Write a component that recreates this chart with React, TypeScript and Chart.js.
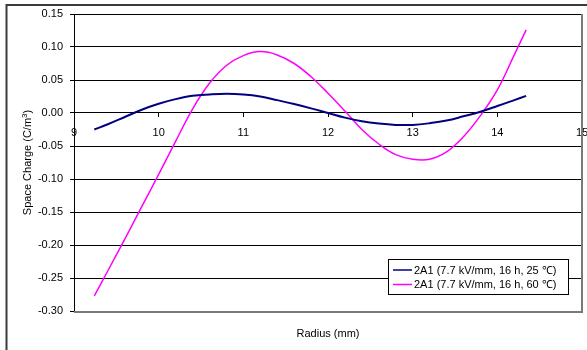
import React, { useEffect, useRef } from 'react';
import { Chart, registerables } from 'chart.js';

Chart.register(...registerables);

// ---- data ----
const radius = [9.24, 9.4, 9.6, 9.8, 10.0, 10.2, 10.4, 10.6, 10.8, 11.0, 11.2, 11.4, 11.6, 11.8, 12.0, 12.2, 12.4, 12.6, 12.8, 13.0, 13.2, 13.4, 13.6, 13.8, 14.0, 14.2, 14.34];
const charge25 = [-0.025, -0.017, -0.006, 0.005, 0.014, 0.021, 0.026, 0.028, 0.029, 0.028, 0.025, 0.0195, 0.0135, 0.007, 0.0, -0.007, -0.0125, -0.016, -0.018, -0.018, -0.0155, -0.0115, -0.005, 0.002, 0.0105, 0.0195, 0.026];
const charge60 = [-0.277, -0.239, -0.191, -0.142, -0.093, -0.043, 0.006, 0.045, 0.072, 0.087, 0.093, 0.088, 0.075, 0.055, 0.03, 0.003, -0.025, -0.047, -0.063, -0.07, -0.07, -0.059, -0.036, -0.004, 0.035, 0.088, 0.126];
const seriesLabels = ['2A1 (7.7 kV/mm, 16 h, 25 \u2103)', '2A1 (7.7 kV/mm, 16 h, 60 \u2103)'];
const seriesColors = ['#000080', '#FF00FF'];
const xTicks = [9, 10, 11, 12, 13, 14, 15];
const yTicks = [-0.3, -0.25, -0.2, -0.15, -0.1, -0.05, 0, 0.05, 0.1, 0.15];
const xTitle = 'Radius (mm)';
const yTitleMain = 'Space Charge (C/m';
const yTitleSup = '3';
const yTitleEnd = ')';

const FONT = '"Liberation Sans", Arial, sans-serif';

const customPlugin = {
  id: 'excelLook',
  beforeDraw(chart: any) {
    const ctx = chart.ctx;
    ctx.save();
    ctx.fillStyle = '#ffffff';
    ctx.fillRect(0, 0, chart.width, chart.height);
    ctx.strokeStyle = '#3a3a3a';
    ctx.lineWidth = 2;
    ctx.strokeRect(6.5, 5, chart.width + 30, chart.height + 30);
    ctx.restore();
  },
  afterDraw(chart: any) {
    const ctx = chart.ctx;
    const a = chart.chartArea;
    ctx.save();
    // plot area border (right / bottom)
    ctx.strokeStyle = '#7a7a7a';
    ctx.lineWidth = 2;
    ctx.beginPath();
    ctx.moveTo(a.right, a.top);
    ctx.lineTo(a.right, a.bottom + 1);
    ctx.lineTo(a.left, a.bottom + 1);
    ctx.stroke();

    // x title
    ctx.fillStyle = '#000';
    ctx.font = `11px ${FONT}`;
    ctx.textAlign = 'center';
    ctx.textBaseline = 'alphabetic';
    ctx.fillText(xTitle, (a.left + a.right) / 2, 337);

    // y title (rotated, with superscript)
    ctx.save();
    ctx.translate(31, (a.top + a.bottom) / 2);
    ctx.rotate(-Math.PI / 2);
    ctx.font = `11px ${FONT}`;
    const w1 = ctx.measureText(yTitleMain).width;
    const w3 = ctx.measureText(yTitleEnd).width;
    ctx.font = `8px ${FONT}`;
    const w2 = ctx.measureText(yTitleSup).width;
    const total = w1 + w2 + w3;
    let x = -total / 2;
    ctx.textAlign = 'left';
    ctx.font = `11px ${FONT}`;
    ctx.fillText(yTitleMain, x, 0);
    x += w1;
    ctx.font = `8px ${FONT}`;
    ctx.fillText(yTitleSup, x, -4);
    x += w2;
    ctx.font = `11px ${FONT}`;
    ctx.fillText(yTitleEnd, x, 0);
    ctx.restore();

    // legend
    const lx = 388.5, ly = 259.5, lw = 180, lh = 35;
    ctx.fillStyle = '#fff';
    ctx.fillRect(lx, ly, lw, lh);
    ctx.strokeStyle = '#000';
    ctx.lineWidth = 1;
    ctx.strokeRect(lx, ly, lw, lh);
    ctx.font = `11px ${FONT}`;
    ctx.textAlign = 'left';
    ctx.textBaseline = 'middle';
    chart.data.datasets.forEach((ds: any, i: number) => {
      const cy = 270 + i * 14.5;
      ctx.strokeStyle = ds.borderColor;
      ctx.lineWidth = 1.5;
      ctx.beginPath();
      ctx.moveTo(393, cy);
      ctx.lineTo(412, cy);
      ctx.stroke();
      ctx.fillStyle = '#000';
      ctx.fillText(ds.label, 414, cy + 0.5);
    });
    ctx.restore();
  },
};

export default function App() {
  const ref = useRef<HTMLCanvasElement | null>(null);

  useEffect(() => {
    if (!ref.current) return;
    const chart = new Chart(ref.current, {
      type: 'line',
      data: {
        datasets: [
          {
            label: seriesLabels[0],
            data: radius.map((r, i) => ({ x: r, y: charge25[i] })),
            borderColor: seriesColors[0],
            borderWidth: 2,
            pointRadius: 0,
            tension: 0.4,
            fill: false,
          },
          {
            label: seriesLabels[1],
            data: radius.map((r, i) => ({ x: r, y: charge60[i] })),
            borderColor: seriesColors[1],
            borderWidth: 1.5,
            pointRadius: 0,
            tension: 0.4,
            fill: false,
          },
        ],
      },
      options: {
        animation: false,
        responsive: false,
        devicePixelRatio: 1,
        layout: { padding: { left: 0, top: 14, right: 5, bottom: 39 } },
        plugins: { legend: { display: false }, tooltip: { enabled: false } },
        scales: {
          x: {
            type: 'linear',
            position: { y: 0 } as any,
            min: 9,
            max: 15,
            afterBuildTicks: (s: any) => {
              s.ticks = xTicks.map((v) => ({ value: v }));
            },
            afterFit: (s: any) => {
              s.paddingLeft = 0;
              s.paddingRight = 0;
            },
            ticks: {
              font: { family: FONT, size: 11 },
              color: '#000',
              padding: 9,
              maxRotation: 0,
              autoSkip: false,
            },
            grid: { drawOnChartArea: false, drawTicks: true, tickLength: 4, color: '#000' },
            border: { color: '#000', width: 1 },
          },
          y: {
            type: 'linear',
            position: 'left',
            min: -0.3,
            max: 0.15,
            afterBuildTicks: (s: any) => {
              s.ticks = yTicks.map((v) => ({ value: v }));
            },
            afterFit: (s: any) => {
              s.width = 74;
            },
            ticks: {
              font: { family: FONT, size: 11 },
              color: '#000',
              padding: 7,
              callback: (v: any) => Number(v).toFixed(2),
            },
            grid: { color: '#000', tickLength: 4, drawTicks: true },
            border: { color: '#000', width: 1 },
          },
        },
      },
      plugins: [customPlugin],
    });
    return () => chart.destroy();
  }, []);

  return (
    <div style={{ position: 'absolute', left: 0, top: 0, width: 587, height: 350 }}>
      <canvas ref={ref} width={587} height={350} style={{ display: 'block' }} />
    </div>
  );
}
